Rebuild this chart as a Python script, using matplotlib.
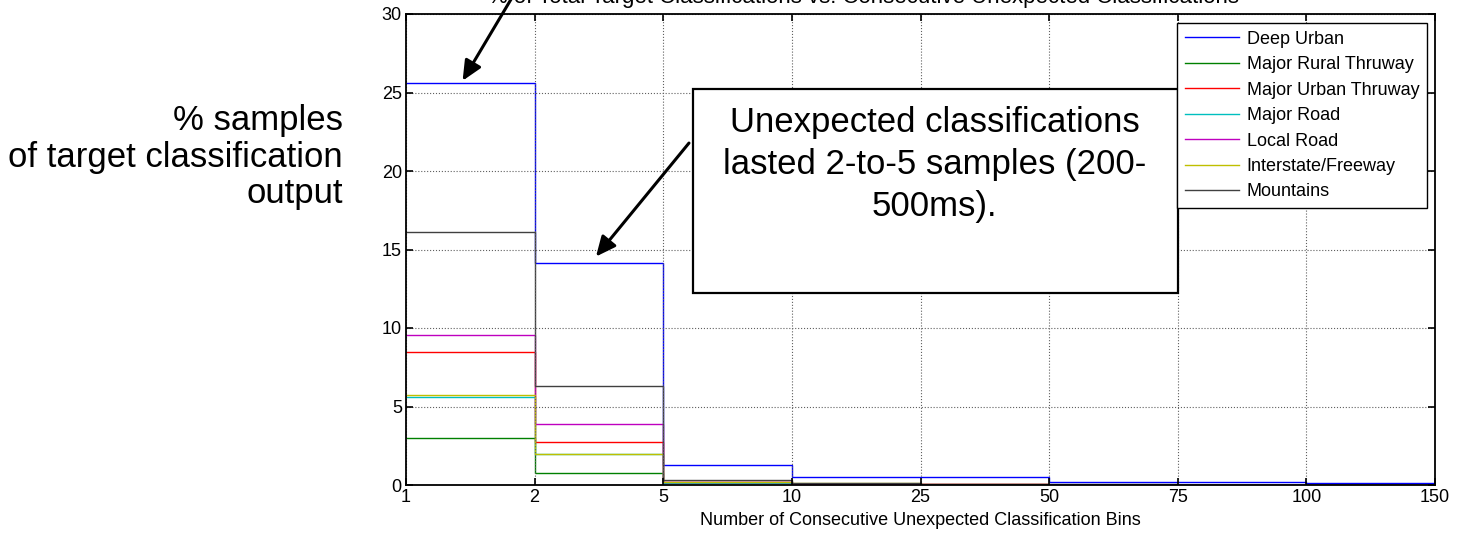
import matplotlib
matplotlib.use('Agg')
from matplotlib import pyplot as plt
from matplotlib.patches import Rectangle
import numpy as np

plt.rcParams['font.family'] = ['Liberation Sans', 'DejaVu Sans']

bin_labels = ['1', '2', '5', '10', '25', '50', '75', '100', '150']
road_types = ['Deep Urban', 'Major Rural Thruway', 'Major Urban Thruway',
              'Major Road', 'Local Road', 'Interstate/Freeway', 'Mountains']
deep_urban = [25.6, 14.15, 1.29, 0.49, 0.49, 0.21, 0.21, 0.15]
major_rural = [2.99, 0.74, 0.10, 0.05, 0.03, 0.02, 0.02, 0.01]
major_urban = [8.49, 2.76, 0.20, 0.08, 0.05, 0.03, 0.02, 0.01]
major_road = [5.60, 1.97, 0.12, 0.05, 0.03, 0.02, 0.02, 0.01]
local_road = [9.57, 3.90, 0.20, 0.08, 0.05, 0.03, 0.02, 0.01]
interstate = [5.75, 1.97, 0.18, 0.10, 0.08, 0.03, 0.02, 0.01]
mountains = [16.10, 6.28, 0.30, 0.10, 0.08, 0.05, 0.03, 0.02]
colors = ['#0000ff', '#008000', '#ff0000', '#00bfbf', '#bf00bf',
          '#bfbf00', '#404040']


def plot_consecutive_bins():
    series = [deep_urban, major_rural, major_urban, major_road,
              local_road, interstate, mountains]
    edges = np.arange(len(bin_labels))

    fig = plt.figure(figsize=(14.59, 5.36), dpi=100)
    ax = fig.add_axes([406 / 1459, 51 / 536, 1029 / 1459, 471 / 536])

    for vals, name, col in zip(series, road_types, colors):
        ax.stairs(vals, edges, baseline=None, color=col, lw=1.0, label=name)

    ax.set_xlim(0, len(bin_labels) - 1)
    ax.set_ylim(0, 30)
    ax.set_xticks(edges)
    ax.set_xticklabels(bin_labels)
    ax.set_yticks(np.arange(0, 31, 5))
    ax.tick_params(direction='in', top=True, right=True, labelsize=13,
                   length=5, width=1.2, pad=3)
    ax.grid(True, color='#606060', linestyle=':', lw=0.8)
    for s in ax.spines.values():
        s.set_linewidth(1.3)
    ax.set_xlabel('Number of Consecutive Unexpected Classification Bins',
                  fontsize=13, labelpad=4)

    leg = ax.legend(loc='upper right', bbox_to_anchor=(1 - 8 / 1029, 1 - 9 / 471),
                    fontsize=13, handlelength=3.0, handletextpad=0.45,
                    labelspacing=0.47, borderpad=0.42, borderaxespad=0,
                    fancybox=False, framealpha=1)
    leg.get_frame().set_edgecolor('black')
    leg.get_frame().set_linewidth(1.0)

    # callout box
    ax.add_patch(Rectangle((2.23, 12.23), 3.77, 13.0, facecolor='white',
                           edgecolor='black', lw=1.6, zorder=5))
    ax.text(4.11, 20.4, 'Unexpected classifications\nlasted 2-to-5 samples (200-\n500ms).',
            ha='center', va='center', multialignment='center', fontsize=25,
            linespacing=1.35, zorder=6)

    arrow = dict(arrowstyle='-|>,head_length=1.2,head_width=0.55',
                 color='black', lw=2.2, shrinkA=0, shrinkB=0)
    ax.annotate('', xy=(1.477, 14.55), xytext=(2.20, 21.78),
                arrowprops=arrow, zorder=7)
    ax.annotate('', xy=(0.44, 25.75), xytext=(0.93, 32.5),
                arrowprops=arrow, annotation_clip=False, zorder=7)

    fig.text(864 / 1459, 1 - 3 / 536,
             '% of Total Target Classifications vs. Consecutive Unexpected Classifications',
             ha='center', va='baseline', fontsize=16)
    fig.text(343 / 1459, 1 - 157 / 536,
             '% samples\nof target classification\noutput',
             ha='right', va='center', multialignment='right', fontsize=25,
             linespacing=1.15)

    fig.savefig('out.png', dpi=100)


if __name__ == '__main__':
    plot_consecutive_bins()
